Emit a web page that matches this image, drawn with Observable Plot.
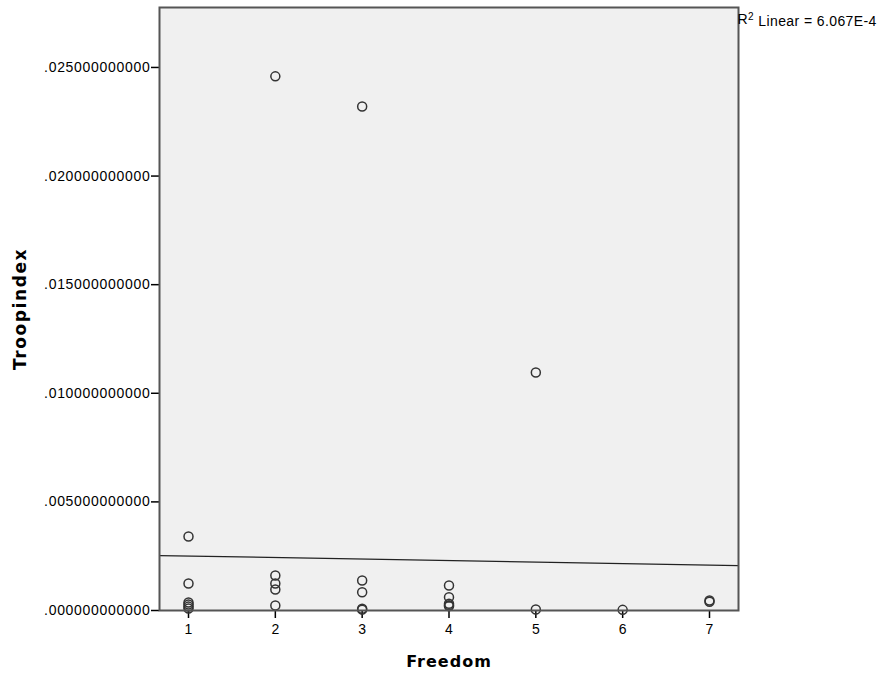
<!DOCTYPE html>
<html>
<head>
<meta charset="utf-8">
<script src="https://cdn.jsdelivr.net/npm/d3@7"></script>
<script src="https://cdn.jsdelivr.net/npm/@observablehq/plot@0.6"></script>
<style>
  html, body { margin: 0; padding: 0; background: #fff; }
  svg { display: block; }
</style>
</head>
<body>
<div id="chart"></div>
<script>
// Data
const freedom = [1,1,1,1,1,1, 2,2,2,2,2, 3,3,3,3,3, 4,4,4,4,4, 5,5, 6, 7,7];
const troopindex = [
  0.00341, 0.00124, 0.00037, 0.00028, 0.00018, 0.00009,
  0.02459, 0.00161, 0.00124, 0.00097, 0.00023,
  0.02320, 0.00138, 0.00084, 0.00008, 0.00004,
  0.00115, 0.00061, 0.00031, 0.00024, 0.00020,
  0.01096, 0.00005,
  0.00003,
  0.00046, 0.00040
];
const xTicks = [1, 2, 3, 4, 5, 6, 7];
const yTicks = [0, 0.005, 0.010, 0.015, 0.020, 0.025];
const fitIntercept = 0.002576;
const fitSlope = -0.000069;
const r2Label = "R2 Linear = 6.067E-4";

const points = freedom.map((f, i) => ({freedom: f, troop: troopindex[i]}));
const xDomain = [0.666, 7.334];
const fitLine = xDomain.map(x => ({x, y: fitIntercept + fitSlope * x}));

const fmt = d => d3.format(".12f")(d).replace(/^0/, "");

const plot = Plot.plot({
  width: 890,
  height: 677,
  marginLeft: 159,
  marginRight: 152,
  marginTop: 7,
  marginBottom: 67,
  style: {fontFamily: "'Liberation Sans', Arial, sans-serif", fontSize: "14px", color: "#000", background: "#fff"},
  x: {domain: xDomain, ticks: xTicks, tickFormat: d => d, label: null},
  y: {domain: [0, 0.02776], ticks: yTicks, tickFormat: fmt, label: null},
  marks: [
    Plot.frame({fill: "#f0f0f0", stroke: "none"}),
    Plot.axisX({ticks: xTicks, tickFormat: d => d, tickSize: 8, tickPadding: 6, stroke: "#000", strokeWidth: 1.5, fontSize: 14, label: null}),
    Plot.axisY({ticks: yTicks, tickFormat: fmt, tickSize: 8, tickPadding: 1, stroke: "#000", strokeWidth: 1.5, fontSize: 14, label: null, className: "yax"}),
    Plot.line(fitLine, {x: "x", y: "y", stroke: "#222", strokeWidth: 1.2}),
    Plot.dot(points, {x: "freedom", y: "troop", r: 4.5, stroke: "#333", strokeWidth: 1.5, fill: "none"}),
    Plot.frame({stroke: "#555", strokeWidth: 2}),
    Plot.text([r2Label], {frameAnchor: "top-right", text: d => d, textAnchor: "start", dx: -1, dy: 7, fontSize: 14, fill: "#000", className: "r2"}),
    Plot.text(["Freedom"], {frameAnchor: "bottom", text: d => d, dy: 56, fontSize: 16, fontWeight: "bold", fill: "#000", fontFamily: "'DejaVu Sans', Verdana, sans-serif", className: "xt"}),
    Plot.text(["Troopindex"], {frameAnchor: "left", text: d => d, textAnchor: "middle", rotate: -90, dx: -139, fontSize: 17, fontWeight: "bold", fill: "#000", fontFamily: "'DejaVu Sans', Verdana, sans-serif", className: "yt"})
  ]
});
document.getElementById("chart").appendChild(plot);

const svg = d3.select(plot);
svg.selectAll(".yax text").style("letter-spacing", "0.7px");
svg.selectAll(".xt text").style("letter-spacing", "1px");
svg.selectAll(".yt text").style("letter-spacing", "1.6px");
// superscript for R²
svg.selectAll(".r2 text").each(function() {
  const t = d3.select(this);
  const s = t.text();
  t.text("");
  t.append("tspan").text(s.slice(0, 1));
  t.append("tspan").attr("dy", "-0.45em").attr("font-size", "10px").text(s.slice(1, 2));
  t.append("tspan").attr("dy", "0.45em").text(s.slice(2));
}).style("letter-spacing", "0.4px");
</script>
</body>
</html>
